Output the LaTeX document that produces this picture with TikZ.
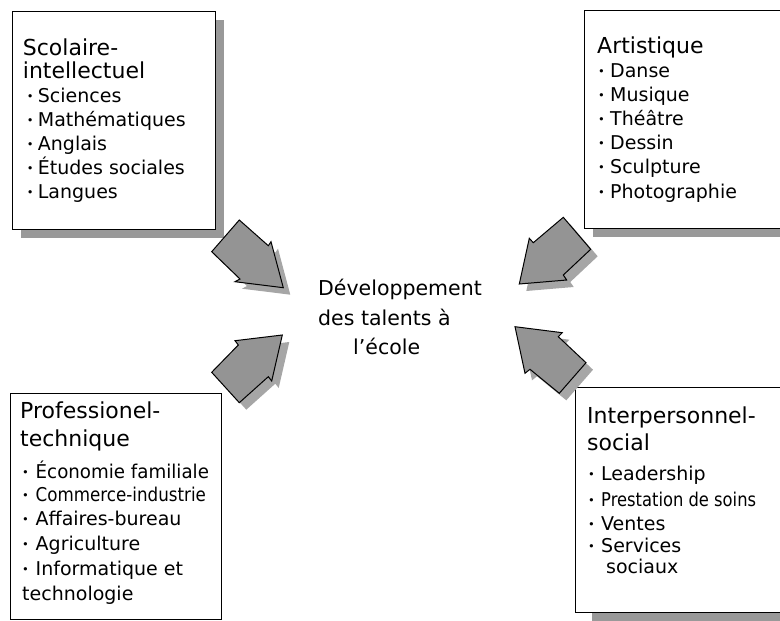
\documentclass[tikz,border=0pt]{standalone}
\usepackage{fontspec}
\setmainfont{DejaVu Sans}
\usetikzlibrary{shadows}
\newcommand{\bul}[1]{\makebox[#1][l]{\raisebox{0.1em}{\scalebox{0.6}{•}}}}
\begin{document}
\begin{tikzpicture}[x=1pt,y=-1pt,
  boxst/.style={draw=black,line width=1.2pt,fill=white,anchor=north west,inner sep=0pt,
    drop shadow={shadow xshift=8pt,shadow yshift=-8pt,fill=black!40,opacity=1}},
  plainbox/.style={draw=black,line width=1.2pt,fill=white,anchor=north west,inner sep=0pt},
  arrowst/.style={fill=black!42,draw=black,line width=1pt,line join=miter},
  ashadow/.style={fill=black!35,draw=none},
  head/.style={anchor=base west,inner sep=0pt,font=\fontsize{22}{26}\selectfont},
  itm/.style={anchor=base west,inner sep=0pt,font=\fontsize{19}{22}\selectfont},
  ctr/.style={anchor=base west,inner sep=0pt,font=\fontsize{20.5}{24}\selectfont},
  arrTL/.style={insert path={(239.3,220) -- (268.3,245.7) -- (271,241.7) -- (283.3,287.7) -- (235,281.7) -- (240,279) -- (211.7,251.7) -- cycle}},
  arrTR/.style={insert path={(563.3,217.3) -- (590.7,249.3) -- (563.3,275) -- (566.7,280) -- (519.3,284) -- (529.3,238.3) -- (533.3,242.7) -- cycle}},
  arrBL/.style={insert path={(211.7,372.3) -- (238.3,345) -- (235,340.7) -- (282.3,335) -- (271.7,381) -- (268.3,376.7) -- (239.3,402.7) -- cycle}},
  arrBR/.style={insert path={(515,326.7) -- (562.3,332.7) -- (558.3,336.7) -- (586,362.7) -- (559.3,393.3) -- (530,369.3) -- (525,373.3) -- cycle}}]
\useasboundingbox (0,0) rectangle (780,621);
\clip (0,0) rectangle (780,621);
% boxes
\node[boxst,minimum width=203pt,minimum height=218pt] (tlbox) at (12,11) {};
\node[boxst,minimum width=210pt,minimum height=218pt] (trbox) at (584,10) {};
\node[plainbox,minimum width=211pt,minimum height=226pt] (blbox) at (10,393) {};
\fill[black!40] (592,612) rectangle (800,630);
\node[plainbox,minimum width=220pt,minimum height=225pt] (brbox) at (575,387) {};
% arrows
\fill[ashadow,shift={(7,7)},arrTL];
\filldraw[arrowst,arrTL];
\fill[ashadow,shift={(7,7)},arrTR];
\filldraw[arrowst,arrTR];
\fill[ashadow,shift={(7,7)},arrBL];
\filldraw[arrowst,arrBL];
\fill[ashadow,shift={(7,7)},arrBR];
\filldraw[arrowst,arrBR];
% centre
\node[ctr] (c1) at (318,295) {Développement};
\node[ctr] (c2) at (318,325) {des talents à};
\node[ctr] (c3) at (353,354) {l’école};
% top-left
\node[head] (tlh1) at (22.7,55) {Scolaire-};
\node[head] (tlh2) at (22.7,78.3) {intellectuel};
\foreach \y/\t [count=\i] in {102/Sciences,126/Mathématiques,150/Anglais,174.3/Études sociales,198.5/Langues}
  \node[itm] (tli\i) at (26.7,\y) {\bul{11pt}\t};
% top-right
\node[head] (trh) at (597,53.3) {Artistique};
\foreach \y/\t [count=\i] in {77.3/Danse,101/Musique,125/Théâtre,149.3/Dessin,173.3/Sculpture,198.3/Photographie}
  \node[itm] (tri\i) at (598,\y) {\bul{12pt}\t};
% bottom-left
\node[head] (blh1) at (20,418.3) {Professionel-};
\node[head] (blh2) at (20,446.7) {technique};
\node[itm] (bli1) at (22,478.3) {\bul{13.5pt}\scalebox{0.96}[1]{Économie familiale}};
\node[itm] (bli2) at (22,501.7) {\bul{13.5pt}\scalebox{0.88}[1]{Commerce-industrie}};
\node[itm] (bli3) at (22,525.7) {\bul{13.5pt}Affaires-bureau};
\node[itm] (bli4) at (22,550.5) {\bul{13.5pt}Agriculture};
\node[itm] (bli5) at (22,575.7) {\bul{13.5pt}Informatique et};
\node[itm] (bli6) at (22,600) {technologie};
% bottom-right
\node[head] (brh1) at (587,423.3) {Interpersonnel-};
\node[head] (brh2) at (587,450) {social};
\node[itm] (bri1) at (588,480) {\bul{13pt}Leadership};
\node[itm] (bri2) at (588,506) {\bul{13pt}\scalebox{0.86}[1]{Prestation de soins}};
\node[itm] (bri3) at (588,530) {\bul{13pt}Ventes};
\node[itm] (bri4) at (588,552.7) {\bul{13pt}Services};
\node[itm] (bri5) at (606,573.3) {sociaux};
\end{tikzpicture}
\end{document}
